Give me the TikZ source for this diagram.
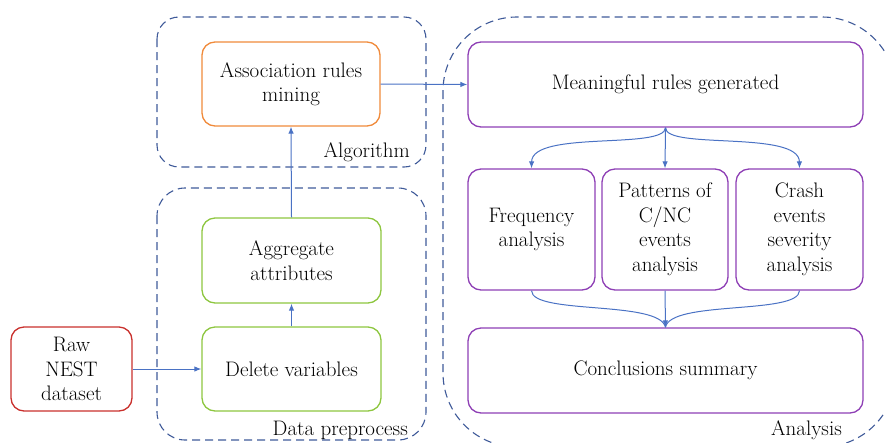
\documentclass[tikz,border=0pt]{standalone}
\usetikzlibrary{arrows.meta}
\definecolor{dashc}{HTML}{3F5A99}
\definecolor{arrc}{HTML}{4A72C4}
\definecolor{orc}{HTML}{F08A3A}
\definecolor{grc}{HTML}{8DC63F}
\definecolor{redc}{HTML}{C9302C}
\definecolor{purc}{HTML}{8E3FB5}
\begin{document}
\begin{tikzpicture}[x=1pt,y=-1pt,
  fs/.style={font=\fontsize{21}{24.5}\selectfont},
  box/.style={draw, line width=1.3pt, rounded corners=13pt, align=center, inner sep=0pt, fs},
  grp/.style={draw=dashc, dash pattern=on 8pt off 5pt, line width=1.1pt},
  arr/.style={draw=arrc, line width=1pt, -{Latex[length=7pt,width=5.5pt]}},
  lnk/.style={draw=arrc, line width=1pt},
  lbl/.style={fs, inner sep=0pt}]
\useasboundingbox (0,0) rectangle (885,442);
\begin{scope}
\clip (0,0) rectangle (885,442);
% groups
\draw[grp, rounded corners=22pt] (157,17) rectangle (426,167);
\draw[grp, rounded corners=28pt] (157,188) rectangle (426,440);
\draw[grp, rounded corners=74pt] (443,17) rectangle (896,447);
% nodes
\node[box, draw=orc, minimum width=178pt, minimum height=84pt] (arm) at (291,84) {Association rules\\mining};
\node[box, draw=grc, minimum width=179pt, minimum height=85pt] (agg) at (291.5,260.5) {Aggregate\\attributes};
\node[box, draw=grc, minimum width=179pt, minimum height=84pt] (del) at (291.5,369) {Delete variables};
\node[box, draw=redc, minimum width=121pt, minimum height=84pt] (raw) at (71.5,369) {Raw\\NEST\\dataset};
\node[box, draw=purc, minimum width=395pt, minimum height=85pt] (mrg) at (665.5,84.5) {Meaningful rules generated};
\node[box, draw=purc, minimum width=127pt, minimum height=121pt] (frq) at (531.5,229.5) {Frequency\\analysis};
\node[box, draw=purc, minimum width=126pt, minimum height=121pt] (pat) at (665,229.5) {Patterns of\\C/NC\\events\\analysis};
\node[box, draw=purc, minimum width=127pt, minimum height=121pt] (crs) at (799.5,229.5) {Crash\\events\\severity\\analysis};
\node[box, draw=purc, minimum width=395pt, minimum height=85pt] (con) at (665.5,370.5) {Conclusions summary};
% labels
\node[lbl, anchor=base east] (lalg) at (410,157) {Algorithm};
\node[lbl, anchor=base east] (ldp) at (408,435) {Data preprocess};
\node[lbl, anchor=base east] (lan) at (842,435) {Analysis};
% connectors
\draw[arr] (raw.east) -- (del.west);
\draw[arr] (del.north) -- (agg.south);
\draw[arr] (agg.north) -- (arm.south);
\draw[arr] (arm.east) -- (mrg.west);
\coordinate (mb) at (mrg.south);
\draw[arr] (mb) .. controls (665,150) and (532,130) .. (frq.north);
\draw[arr] (mb) -- (pat.north);
\draw[arr] (mb) .. controls (665,150) and (799,130) .. (crs.north);
\coordinate (ct) at (con.north);
\draw[lnk] (frq.south) .. controls (532,315) and (660,300) .. (ct);
\draw[lnk] (crs.south) .. controls (799,315) and (670,300) .. (ct);
\draw[arr] (pat.south) -- (ct);
\end{scope}
\end{tikzpicture}
\end{document}
